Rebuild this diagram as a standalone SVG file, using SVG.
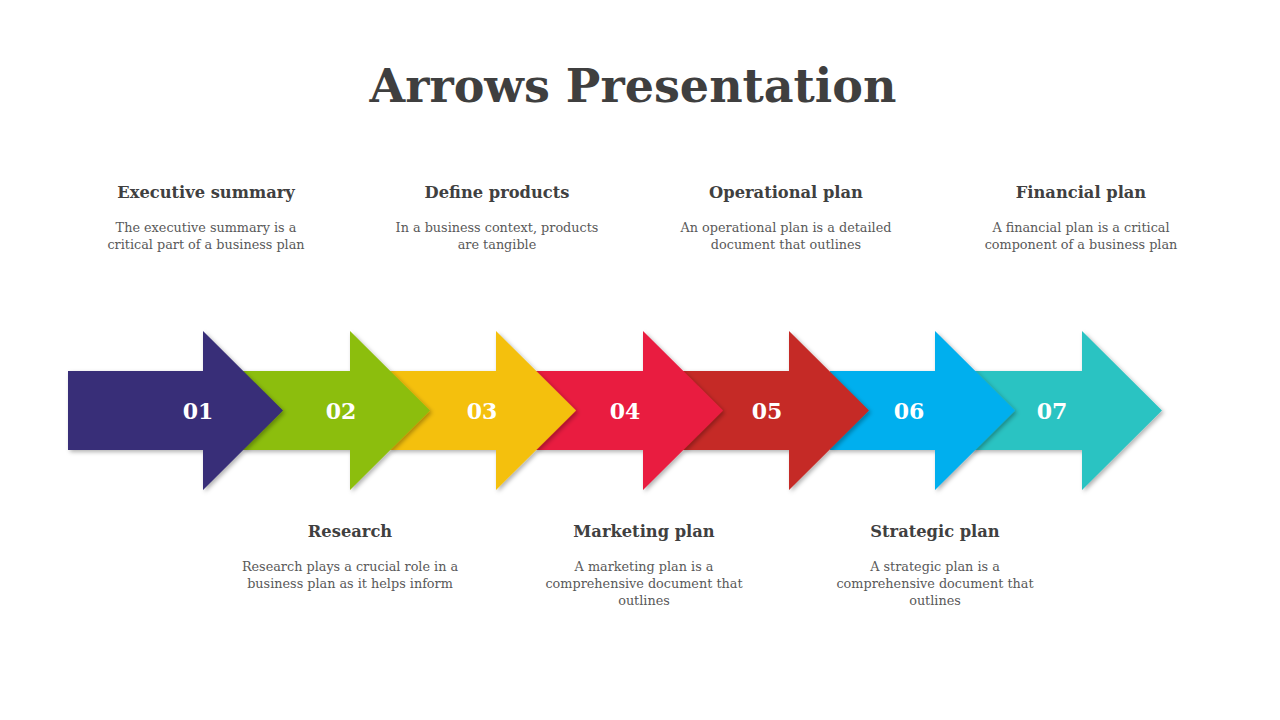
<svg xmlns="http://www.w3.org/2000/svg" width="1280" height="720" viewBox="0 0 1280 720">
<defs>
<filter id="sh" x="-10%" y="-10%" width="130%" height="130%">
<feDropShadow dx="2" dy="2" stdDeviation="2" flood-color="#000" flood-opacity="0.3"/>
</filter>
<style>
.t{font-family:"DejaVu Serif","Liberation Serif",serif;font-weight:bold;fill:#3f3f3f;text-anchor:middle}
.h{font-family:"DejaVu Serif","Liberation Serif",serif;font-weight:bold;font-size:16.3px;fill:#404040;text-anchor:middle}
.d{font-family:"DejaVu Serif","Liberation Serif",serif;font-size:12.8px;fill:#595959;text-anchor:middle}
.n{font-family:"DejaVu Serif","Liberation Serif",serif;font-weight:bold;font-size:22px;fill:#fff;text-anchor:middle}
.a{filter:url(#sh)}
</style>
</defs>
<rect width="1280" height="720" fill="#fff"/>
<text class="t" x="633" y="102" font-size="46">Arrows Presentation</text>

<g id="arrow7"><path class="a" fill="#2BC3C2" d="M970 371H1082V331L1162 410.5L1082 490V450H970Z"/><text class="n" x="1052" y="419">07</text></g>
<g id="arrow6"><path class="a" fill="#03AFEE" d="M830 371H935V331L1015 410.5L935 490V450H830Z"/><text class="n" x="909" y="419">06</text></g>
<g id="arrow5"><path class="a" fill="#C52B27" d="M683 371H789V331L869 410.5L789 490V450H683Z"/><text class="n" x="767" y="419">05</text></g>
<g id="arrow4"><path class="a" fill="#E91E40" d="M536 371H643V331L723 410.5L643 490V450H536Z"/><text class="n" x="625" y="419">04</text></g>
<g id="arrow3"><path class="a" fill="#F4C00D" d="M390 371H496V331L576 410.5L496 490V450H390Z"/><text class="n" x="482" y="419">03</text></g>
<g id="arrow2"><path class="a" fill="#8CBE0C" d="M243 371H350V331L430 410.5L350 490V450H243Z"/><text class="n" x="341" y="419">02</text></g>
<g id="arrow1"><path class="a" fill="#372E78" d="M68 371H203V331L283 410.5L203 490V450H68Z"/><text class="n" x="198" y="419">01</text></g>

<g id="executive-summary"><text class="h" x="206" y="198">Executive summary</text><text class="d" x="206" y="232">The executive summary is a</text><text class="d" x="206" y="249">critical part of a business plan</text></g>
<g id="define-products"><text class="h" x="497" y="198">Define products</text><text class="d" x="497" y="232">In a business context, products</text><text class="d" x="497" y="249">are tangible</text></g>
<g id="operational-plan"><text class="h" x="786" y="198">Operational plan</text><text class="d" x="786" y="232">An operational plan is a detailed</text><text class="d" x="786" y="249">document that outlines</text></g>
<g id="financial-plan"><text class="h" x="1081" y="198">Financial plan</text><text class="d" x="1081" y="232">A financial plan is a critical</text><text class="d" x="1081" y="249">component of a business plan</text></g>
<g id="research"><text class="h" x="350" y="537">Research</text><text class="d" x="350" y="571">Research plays a crucial role in a</text><text class="d" x="350" y="588">business plan as it helps inform</text></g>
<g id="marketing-plan"><text class="h" x="644" y="537">Marketing plan</text><text class="d" x="644" y="571">A marketing plan is a</text><text class="d" x="644" y="588">comprehensive document that</text><text class="d" x="644" y="605">outlines</text></g>
<g id="strategic-plan"><text class="h" x="935" y="537">Strategic plan</text><text class="d" x="935" y="571">A strategic plan is a</text><text class="d" x="935" y="588">comprehensive document that</text><text class="d" x="935" y="605">outlines</text></g>
</svg>
